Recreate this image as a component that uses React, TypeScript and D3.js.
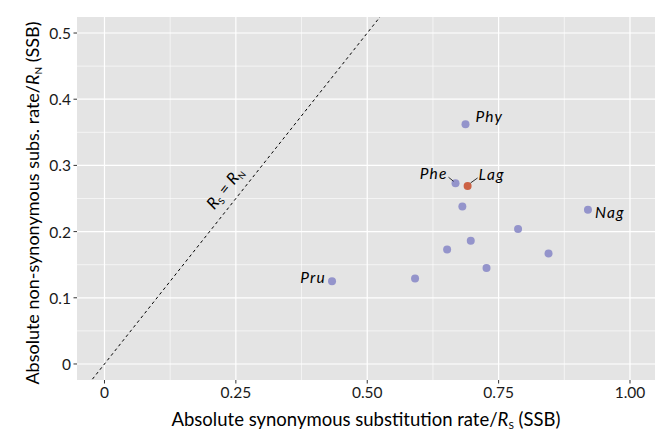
import React from "react";
import * as d3 from "d3";

const W = 657;
const H = 432;

const speciesNames = ["Phy", "Phe", "Lag", "", "", "Nag", "", "", "", "", "", "Pru"];
const rsValues = [0.687, 0.668, 0.691, 0.681, 0.787, 0.92, 0.697, 0.652, 0.845, 0.727, 0.591, 0.433];
const rnValues = [0.362, 0.273, 0.269, 0.238, 0.204, 0.233, 0.186, 0.173, 0.167, 0.145, 0.129, 0.125];
const highlight = [false, false, true, false, false, false, false, false, false, false, false, false];

const xTicks = [0, 0.25, 0.5, 0.75, 1.0];
const xTickLabels = ["0", "0.25", "0.50", "0.75", "1.00"];
const yTicks = [0, 0.1, 0.2, 0.3, 0.4, 0.5];
const yTickLabels = ["0", "0.1", "0.2", "0.3", "0.4", "0.5"];
const xMinor = [0.125, 0.375, 0.625, 0.875];
const yMinor = [0.05, 0.15, 0.25, 0.35, 0.45];

const FONT = "Lato, 'Open Sans', sans-serif";

export default function App() {
  const left = 77, right = 655, top = 17, bottom = 380;
  const x = d3.scaleLinear().domain([-0.0523, 1.0476]).range([left, right]);
  const y = d3.scaleLinear().domain([-0.0242, 0.5242]).range([bottom, top]);

  const purple = "#9494CB";
  const orange = "#CC6244";

  const labelPos: Record<string, { dx: number; dy: number; anchor: string; leader?: [number, number, number, number] }> = {
    Phy: { dx: 10, dy: -6, anchor: "start" },
    Phe: { dx: -8, dy: -8, anchor: "end", leader: [-7, -6, -2, -2] },
    Lag: { dx: 11, dy: -10, anchor: "start", leader: [10, -8, 3, -3] },
    Nag: { dx: 7, dy: 4, anchor: "start" },
    Pru: { dx: -6, dy: -2, anchor: "end" },
  };

  const lineDomain = [-0.03, 0.53];
  const clipId = "panelClip";
  const labAngle = -Math.atan2(y(0) - y(1), x(1) - x(0)) * 180 / Math.PI;
  const labX = x(0.262) - 13;
  const labY = y(0.262) + 1;

  return (
    <svg width={W} height={H} style={{ display: "block", position: "absolute", left: 0, top: 0 }} fontFamily={FONT}>
      <defs>
        <clipPath id={clipId}>
          <rect x={left} y={top} width={right - left} height={bottom - top} />
        </clipPath>
      </defs>
      <rect x={0} y={0} width={W} height={H} fill="#fff" />
      <rect x={left} y={top} width={right - left} height={bottom - top} fill="#E4E4E4" />
      {xMinor.map((v) => (
        <line key={"xm" + v} x1={x(v)} x2={x(v)} y1={top} y2={bottom} stroke="#fff" strokeWidth={0.6} />
      ))}
      {yMinor.map((v) => (
        <line key={"ym" + v} x1={left} x2={right} y1={y(v)} y2={y(v)} stroke="#fff" strokeWidth={0.6} />
      ))}
      {xTicks.map((v) => (
        <line key={"xg" + v} x1={x(v)} x2={x(v)} y1={top} y2={bottom} stroke="#fff" strokeWidth={1.2} />
      ))}
      {yTicks.map((v) => (
        <line key={"yg" + v} x1={left} x2={right} y1={y(v)} y2={y(v)} stroke="#fff" strokeWidth={1.2} />
      ))}
      <g clipPath={`url(#${clipId})`}>
        <line
          x1={x(lineDomain[0])}
          y1={y(lineDomain[0])}
          x2={x(lineDomain[1])}
          y2={y(lineDomain[1])}
          stroke="#000"
          strokeWidth={1}
          strokeDasharray="3,3"
        />
      </g>
      <text
        transform={`translate(${labX},${labY}) rotate(${labAngle})`}
        textAnchor="middle"
        fontSize={16}
        fill="#000"
      >
        <tspan fontStyle="italic">R</tspan>
        <tspan fontSize={9} dy={3}>S</tspan>
        <tspan dy={-3}> = </tspan>
        <tspan fontStyle="italic">R</tspan>
        <tspan fontSize={9} dy={3}>N</tspan>
      </text>
      {rsValues.map((v, i) => (
        <circle key={"p" + i} cx={x(v)} cy={y(rnValues[i])} r={4} fill={highlight[i] ? orange : purple} />
      ))}
      {speciesNames.map((n, i) => {
        if (!n) return null;
        const p = labelPos[n];
        const px = x(rsValues[i]);
        const py = y(rnValues[i]);
        return (
          <g key={"l" + i}>
            {p.leader && (
              <line x1={px + p.leader[0]} y1={py + p.leader[1]} x2={px + p.leader[2]} y2={py + p.leader[3]} stroke="#000" strokeWidth={0.8} />
            )}
            <text x={px + p.dx} y={py + p.dy} textAnchor={p.anchor} dominantBaseline="middle" fontStyle="italic" fontSize={15.5} fill="#000" letterSpacing={1.2}>
              {n}
            </text>
          </g>
        );
      })}
      {xTicks.map((v, i) => (
        <g key={"xt" + v}>
          <line x1={x(v)} x2={x(v)} y1={bottom} y2={bottom + 3.5} stroke="#333" strokeWidth={1} />
          <text x={x(v)} y={bottom + 18} textAnchor="middle" fontSize={15.5} fill="#1a1a1a">
            {xTickLabels[i]}
          </text>
        </g>
      ))}
      {yTicks.map((v, i) => (
        <g key={"yt" + v}>
          <line x1={left - 3.5} x2={left} y1={y(v)} y2={y(v)} stroke="#333" strokeWidth={1} />
          <text x={left - 6} y={y(v)} textAnchor="end" dominantBaseline="central" fontSize={15.5} fill="#1a1a1a">
            {yTickLabels[i]}
          </text>
        </g>
      ))}
      <text x={366} y={426} textAnchor="middle" fontSize={18.5} fill="#000">
        Absolute synonymous substitution rate/<tspan fontStyle="italic">R</tspan>
        <tspan fontSize={10} dy={3}>S</tspan>
        <tspan dy={-3}> (SSB)</tspan>
      </text>
      <text transform={`translate(39,203) rotate(-90)`} textAnchor="middle" fontSize={18} fill="#000">
        Absolute non-synonymous subs. rate/<tspan fontStyle="italic">R</tspan>
        <tspan fontSize={10} dy={3}>N</tspan>
        <tspan dy={-3}> (SSB)</tspan>
      </text>
    </svg>
  );
}
